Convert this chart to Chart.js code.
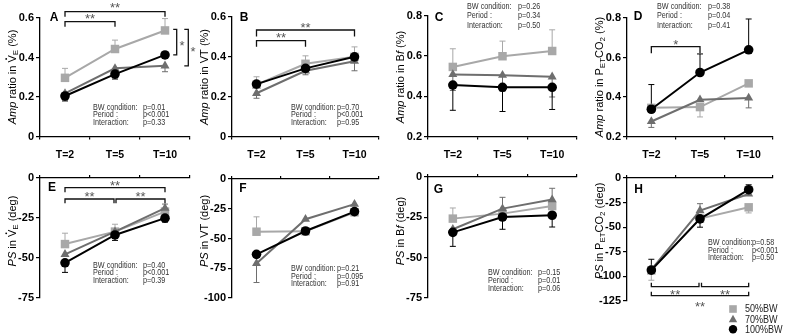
<!DOCTYPE html>
<html>
<head>
<meta charset="utf-8">
<script src="https://cdn.jsdelivr.net/npm/chart.js@4.4.1/dist/chart.umd.min.js"></script>
<style>
body { margin: 0; background: #fff; }
#wrap { position: relative; width: 785px; height: 335px; }
canvas { position: absolute; left: 0; top: 0; }
</style>
</head>
<body>
<div id="wrap"></div>
<script>
const periods = ['T=2', 'T=5', 'T=10'];
const groups = ['50%BW', '70%BW', '100%BW'];
const statNames = ['BW condition:', 'Period :', 'Interaction:'];

const ampTicksLow = [0, 0.2, 0.4, 0.6];
const ampTicksHigh = [0.2, 0.4, 0.6, 0.8];
const psTicks75 = [-75, -50, -25, 0];
const psTicks100 = [-100, -75, -50, -25, 0];
const psTicks125 = [-125, -100, -75, -50, -25, 0];

// error values: positive = bar drawn up, negative = drawn down
// A - Amp ratio in VE
const ampVE50 = [0.297, 0.443, 0.537];
const ampVE70 = [0.218, 0.345, 0.358];
const ampVE100 = [0.205, 0.316, 0.413];
const ampVE50Err = [0.048, 0.045, 0.06];
const ampVE70Err = [0, -0.02, -0.03];
const ampVE100Err = [-0.025, -0.025, 0];
const ampVEStats = ['p=0.01', 'p<0.001', 'p=0.33'];

// B - Amp ratio in VT
const ampVT50 = [0.26, 0.365, 0.40];
const ampVT70 = [0.217, 0.33, 0.378];
const ampVT100 = [0.263, 0.342, 0.40];
const ampVT50Err = [0.04, 0.04, 0.05];
const ampVT70Err = [-0.025, -0.02, -0.048];
const ampVT100Err = [0, 0, 0];
const ampVTStats = ['p=0.70', 'p<0.001', 'p=0.95'];

// C - Amp ratio in Bf
const ampBf50 = [0.545, 0.598, 0.624];
const ampBf70 = [0.508, 0.504, 0.496];
const ampBf100 = [0.455, 0.444, 0.444];
const ampBf50Err = [0.09, 0.075, 0.105];
const ampBf70Err = [-0.08, -0.08, -0.1];
const ampBf100Err = [-0.125, -0.12, -0.11];
const ampBfStats = ['p=0.26', 'p=0.34', 'p=0.50'];

// D - Amp ratio in PETCO2
const ampCO50 = [0.345, 0.349, 0.469];
const ampCO70 = [0.276, 0.386, 0.395];
const ampCO100 = [0.338, 0.524, 0.639];
const ampCO50Err = [0, -0.05, 0];
const ampCO70Err = [-0.03, 0, -0.05];
const ampCO100Err = [0.125, 0.094, 0.156];
const ampCOStats = ['p=0.38', 'p=0.04', 'p=0.41'];

// E - PS in VE
const psVE50 = [-41.3, -33.5, -21];
const psVE70 = [-47.7, -33.5, -18.8];
const psVE100 = [-53, -35.6, -25.1];
const psVE50Err = [6.8, 4.6, 0];
const psVE70Err = [0, 0, 2.5];
const psVE100Err = [-6, -3.4, -2.5];
const psVEStats = ['p=0.40', 'p<0.001', 'p=0.39'];

// F - PS in VT
const psVT50 = [-44.3, -44, -28];
const psVT70 = [-71, -33.8, -21.1];
const psVT100 = [-63.3, -43.7, -27.4];
const psVT50Err = [12.5, 0, 0];
const psVT70Err = [-16, 0, 0];
const psVT100Err = [0, 0, 0];
const psVTStats = ['p=0.21', 'p=0.095', 'p=0.91'];

// G - PS in Bf
const psBf50 = [-25.8, -22.7, -18];
const psBf70 = [-32.4, -19.6, -14];
const psBf100 = [-34.3, -24.8, -23.7];
const psBf50Err = [6.6, 0, 0];
const psBf70Err = [0, 7, 7];
const psBf100Err = [-8.7, -7.6, -7.3];
const psBfStats = ['p=0.15', 'p=0.01', 'p=0.06'];

// H - PS in PETCO2
const psCO50 = [-93.9, -41.2, -29.8];
const psCO70 = [-93, -33.1, -16.2];
const psCO100 = [-93.6, -41.5, -11.9];
const psCO50Err = [-10, 0, -5.7];
const psCO70Err = [0, 7, 0];
const psCO100Err = [11, -8.5, 5];
const psCOStats = ['p=0.58', 'p<0.001', 'p=0.50'];

const FONT = '"Liberation Sans", Arial, sans-serif';
const colors = ['#a8a8a8', '#6e6e6e', '#000000'];
const shapes = ['rect', 'triangle', 'circle'];
const radii = [6, 5.2, 4.8];

const panels = [
  { letter: 'A', lp: [54, 17.5], area: [40, 190, 18, 136.5], row: 0, ticks: ampTicksLow,
    series: [ampVE50, ampVE70, ampVE100], errs: [ampVE50Err, ampVE70Err, ampVE100Err],
    title: [{ t: 'Amp', i: 1 }, { t: ' ratio in ' }, { t: 'V', dot: 1 }, { t: 'E', sub: 1 }, { t: ' (%)' }],
    stats: ampVEStats, sp: { lx: 93, px: 143, ys: [107, 114.5, 122] },
    brackets: [
      { a: 0, b: 2, y: 11.7, leg: 5, text: '**', ty: 4.5 },
      { a: 0, b: 1, y: 21.7, leg: 5, text: '**', ty: 16 },
      { x: 176.7, arm: 3.5, v1: ampVE50[2], v2: ampVE100[2], text: '*', tx: 182, ty: 43 },
      { x: 188.3, arm: 4, v1: ampVE50[2], v2: ampVE70[2], text: '*', tx: 193, ty: 49 }
    ] },
  { letter: 'B', lp: [244, 18], area: [232, 379, 17, 136.5], row: 0, ticks: ampTicksLow,
    series: [ampVT50, ampVT70, ampVT100], errs: [ampVT50Err, ampVT70Err, ampVT100Err],
    title: [{ t: 'Amp', i: 1 }, { t: ' ratio in VT (%)' }],
    stats: ampVTStats, sp: { lx: 291, px: 337, ys: [107, 114.5, 122] },
    brackets: [
      { a: 0, b: 2, y: 30, leg: 6.5, text: '**', ty: 25 },
      { a: 0, b: 1, y: 40.7, leg: 6, text: '**', ty: 35 }
    ] },
  { letter: 'C', lp: [439, 18], area: [428, 577, 15.5, 136.5], row: 0, ticks: ampTicksHigh,
    series: [ampBf50, ampBf70, ampBf100], errs: [ampBf50Err, ampBf70Err, ampBf100Err],
    title: [{ t: 'Amp', i: 1 }, { t: ' ratio in B' }, { t: 'f', i: 1 }, { t: ' (%)' }],
    stats: ampBfStats, sp: { lx: 467, px: 518, ys: [6, 15.5, 25] },
    brackets: [] },
  { letter: 'D', lp: [638, 17], area: [627, 773, 18, 136.5], row: 0, ticks: ampTicksHigh,
    series: [ampCO50, ampCO70, ampCO100], errs: [ampCO50Err, ampCO70Err, ampCO100Err],
    title: [{ t: 'Amp', i: 1 }, { t: ' ratio in P' }, { t: 'ET', sub: 1 }, { t: 'CO' }, { t: '2', sub: 1 }, { t: ' (%)' }],
    stats: ampCOStats, sp: { lx: 657, px: 708, ys: [6, 15.5, 25.5] },
    brackets: [
      { a: 0, b: 1, y: 46.7, leg: 6.6, text: '*', ty: 41.7 }
    ] },
  { letter: 'E', lp: [52, 188], area: [40, 190, 178, 298], row: 1, ticks: psTicks75,
    series: [psVE50, psVE70, psVE100], errs: [psVE50Err, psVE70Err, psVE100Err],
    title: [{ t: 'PS', i: 1 }, { t: ' in ' }, { t: 'V', dot: 1 }, { t: 'E', sub: 1 }, { t: ' (deg)' }],
    stats: psVEStats, sp: { lx: 93, px: 143, ys: [265, 272.5, 280] },
    brackets: [
      { a: 0, b: 2, y: 187.7, leg: 4.6, text: '**', ty: 183 },
      { a: 0, b: 1, y: 199, leg: 4.3, text: '**', ty: 194, o2: 1 },
      { a: 1, b: 2, y: 199, leg: 4.3, text: '**', ty: 194, o1: 1 }
    ] },
  { letter: 'F', lp: [243, 189], area: [232, 379, 179, 298], row: 1, ticks: psTicks100,
    series: [psVT50, psVT70, psVT100], errs: [psVT50Err, psVT70Err, psVT100Err],
    title: [{ t: 'PS', i: 1 }, { t: ' in VT (deg)' }],
    stats: psVTStats, sp: { lx: 291, px: 337, ys: [268.3, 276, 283.3] },
    brackets: [] },
  { letter: 'G', lp: [438.5, 189.5], area: [428, 577, 177, 298], row: 1, ticks: psTicks75,
    series: [psBf50, psBf70, psBf100], errs: [psBf50Err, psBf70Err, psBf100Err],
    title: [{ t: 'PS', i: 1 }, { t: ' in B' }, { t: 'f', i: 1 }, { t: ' (deg)' }],
    stats: psBfStats, sp: { lx: 488, px: 538, ys: [272.7, 280.5, 288.3] },
    brackets: [] },
  { letter: 'H', lp: [638.5, 189.5], area: [627, 773, 178, 301], row: 1, ticks: psTicks125,
    series: [psCO50, psCO70, psCO100], errs: [psCO50Err, psCO70Err, psCO100Err],
    title: [{ t: 'PS', i: 1 }, { t: ' in P' }, { t: 'ET', sub: 1 }, { t: 'CO' }, { t: '2', sub: 1 }, { t: ' (deg)' }],
    stats: psCOStats, sp: { lx: 708, px: 752, ys: [242.3, 250, 257.7] },
    legend: true,
    brackets: [
      { a: 0, b: 1, y: 286.7, leg: -4, text: '**', ty: 292, o2: 1 },
      { a: 1, b: 2, y: 286.7, leg: -4, text: '**', ty: 292, o1: 1.5 },
      { a: 0, b: 2, y: 295.7, leg: -4, text: '**', ty: 303.3 }
    ] }
];

function drawTitle(ctx, segs, cx, cy) {
  ctx.save();
  ctx.translate(cx, cy);
  ctx.rotate(-Math.PI / 2);
  ctx.textBaseline = 'middle';
  ctx.textAlign = 'left';
  ctx.fillStyle = '#000';
  const fontOf = s => (s.i ? 'italic ' : '') + (s.sub ? '8px ' : '11px ') + FONT;
  let w = 0;
  segs.forEach(s => { ctx.font = fontOf(s); w += ctx.measureText(s.t).width; });
  let x0 = -w / 2;
  segs.forEach(s => {
    ctx.font = fontOf(s);
    const sw = ctx.measureText(s.t).width;
    ctx.fillText(s.t, x0, s.sub ? 3 : 0);
    if (s.dot) {
      ctx.beginPath();
      ctx.arc(x0 + sw / 2, -6.8, 0.9, 0, Math.PI * 2);
      ctx.fill();
    }
    x0 += sw;
  });
  ctx.restore();
}

function drawStars(ctx, text, x, y) {
  ctx.save();
  ctx.font = '13px ' + FONT;
  ctx.fillStyle = '#555';
  ctx.textAlign = 'center';
  ctx.textBaseline = 'alphabetic';
  ctx.fillText(text, x, y + 7.4);
  ctx.restore();
}

function marker(ctx, shape, x, y, r, color) {
  ctx.fillStyle = color;
  ctx.beginPath();
  if (shape === 'rect') {
    ctx.rect(x - r, y - r, 2 * r, 2 * r);
  } else if (shape === 'triangle') {
    ctx.moveTo(x, y - r * 1.1);
    ctx.lineTo(x + r, y + r * 0.7);
    ctx.lineTo(x - r, y + r * 0.7);
    ctx.closePath();
  } else {
    ctx.arc(x, y, r, 0, Math.PI * 2);
  }
  ctx.fill();
}

function deco(p) {
  return {
    id: 'deco' + p.letter,
    beforeDatasetsDraw(chart) {
      const { ctx, scales: { x, y } } = chart;
      ctx.save();
      ctx.lineWidth = 1;
      p.series.forEach((vals, s) => {
        ctx.strokeStyle = colors[s];
        vals.forEach((v, i) => {
          const e = p.errs[s][i];
          if (!e) return;
          const px = x.getPixelForValue(i);
          const y1 = y.getPixelForValue(v + e);
          ctx.beginPath();
          ctx.moveTo(px, y.getPixelForValue(v));
          ctx.lineTo(px, y1);
          ctx.moveTo(px - 3, y1);
          ctx.lineTo(px + 3, y1);
          ctx.stroke();
        });
      });
      ctx.restore();
    },
    afterDraw(chart) {
      const { ctx, chartArea, scales: { x, y } } = chart;
      const midY = p.row === 0 ? 77 : 231;
      drawTitle(ctx, p.title, chartArea.left - 27, midY);

      ctx.save();
      ctx.font = 'bold 12px ' + FONT;
      ctx.fillStyle = '#000';
      ctx.textAlign = 'center';
      ctx.textBaseline = 'middle';
      ctx.fillText(p.letter, p.lp[0], p.lp[1]);

      // statistics block
      ctx.font = '9.5px ' + FONT;
      ctx.fillStyle = '#333';
      ctx.textAlign = 'left';
      p.sp.ys.forEach((yy, k) => {
        [[p.sp.lx, statNames[k]], [p.sp.px, p.stats[k]]].forEach(([tx, txt]) => {
          ctx.save();
          ctx.translate(tx, yy);
          ctx.scale(0.76, 1);
          ctx.fillText(txt, 0, 0);
          ctx.restore();
        });
      });

      // significance brackets
      ctx.strokeStyle = '#111';
      ctx.lineWidth = 1.3;
      p.brackets.forEach(b => {
        if (b.a !== undefined) {
          const x1 = x.getPixelForValue(b.a) + (b.o1 || 0);
          const x2 = x.getPixelForValue(b.b) - (b.o2 || 0);
          ctx.beginPath();
          ctx.moveTo(x1, b.y + b.leg);
          ctx.lineTo(x1, b.y);
          ctx.lineTo(x2, b.y);
          ctx.lineTo(x2, b.y + b.leg);
          ctx.stroke();
          drawStars(ctx, b.text, (x1 + x2) / 2, b.ty);
        } else {
          const y1 = y.getPixelForValue(b.v1) - 1;
          const y2 = y.getPixelForValue(b.v2);
          ctx.beginPath();
          ctx.moveTo(b.x - b.arm, y1);
          ctx.lineTo(b.x, y1);
          ctx.lineTo(b.x, y2);
          ctx.lineTo(b.x - b.arm, y2);
          ctx.stroke();
          drawStars(ctx, b.text, b.tx, b.ty);
        }
      });

      if (p.legend) {
        const ly = [309, 319.3, 329.3];
        const lr = [3.8, 4.2, 4.2];
        ctx.font = '10.5px ' + FONT;
        ctx.textBaseline = 'middle';
        groups.forEach((g, s) => {
          marker(ctx, shapes[s], 733, ly[s], lr[s], colors[s]);
          ctx.fillStyle = '#222';
          ctx.save();
          ctx.translate(745, ly[s] + 0.5);
          ctx.scale(0.86, 1);
          ctx.fillText(g, 0, 0);
          ctx.restore();
        });
      }
      ctx.restore();
    }
  };
}

const wrap = document.getElementById('wrap');
panels.forEach(p => {
  const [L, R, T, B] = p.area;
  const top = p.row === 0;
  const canvas = document.createElement('canvas');
  canvas.width = 785;
  canvas.height = 335;
  wrap.appendChild(canvas);
  new Chart(canvas, {
    type: 'line',
    data: {
      labels: periods,
      datasets: p.series.map((vals, s) => ({
        label: groups[s],
        data: vals,
        borderColor: colors[s],
        backgroundColor: colors[s],
        pointBackgroundColor: colors[s],
        pointBorderColor: colors[s],
        pointBorderWidth: 0,
        pointStyle: shapes[s],
        pointRadius: radii[s],
        borderWidth: 2,
        tension: 0,
        clip: false,
        order: 2 - s
      }))
    },
    options: {
      responsive: false,
      animation: false,
      events: [],
      layout: {
        padding: {
          left: L - 36,
          right: 785 - R,
          top: top ? T : T - 6,
          bottom: top ? 335 - B - 30 : 335 - B
        }
      },
      plugins: { legend: { display: false }, tooltip: { enabled: false } },
      scales: {
        x: {
          type: 'category',
          position: top ? 'bottom' : 'top',
          offset: true,
          grid: { offset: true, drawOnChartArea: false, tickLength: 3, color: '#000', lineWidth: 1.2 },
          border: { color: '#000', width: 1.3 },
          ticks: {
            display: top,
            color: '#000',
            font: { family: FONT, size: 10.5, weight: 'bold' },
            padding: 9,
            maxRotation: 0,
            autoSkip: false
          },
          afterFit: s => { s.height = top ? 30 : 6; }
        },
        y: {
          min: p.ticks[0],
          max: p.ticks[p.ticks.length - 1],
          afterBuildTicks: s => { s.ticks = p.ticks.map(v => ({ value: v })); },
          grid: { drawOnChartArea: false, tickLength: 4, color: '#000', lineWidth: 1.2 },
          border: { color: '#000', width: 1.3 },
          ticks: {
            color: '#000',
            font: { family: FONT, size: 11, weight: 'bold' },
            padding: 2,
            autoSkip: false,
            callback: v => String(v)
          },
          afterFit: s => { s.width = 36; }
        }
      }
    },
    plugins: [deco(p)]
  });
});
</script>
</body>
</html>
